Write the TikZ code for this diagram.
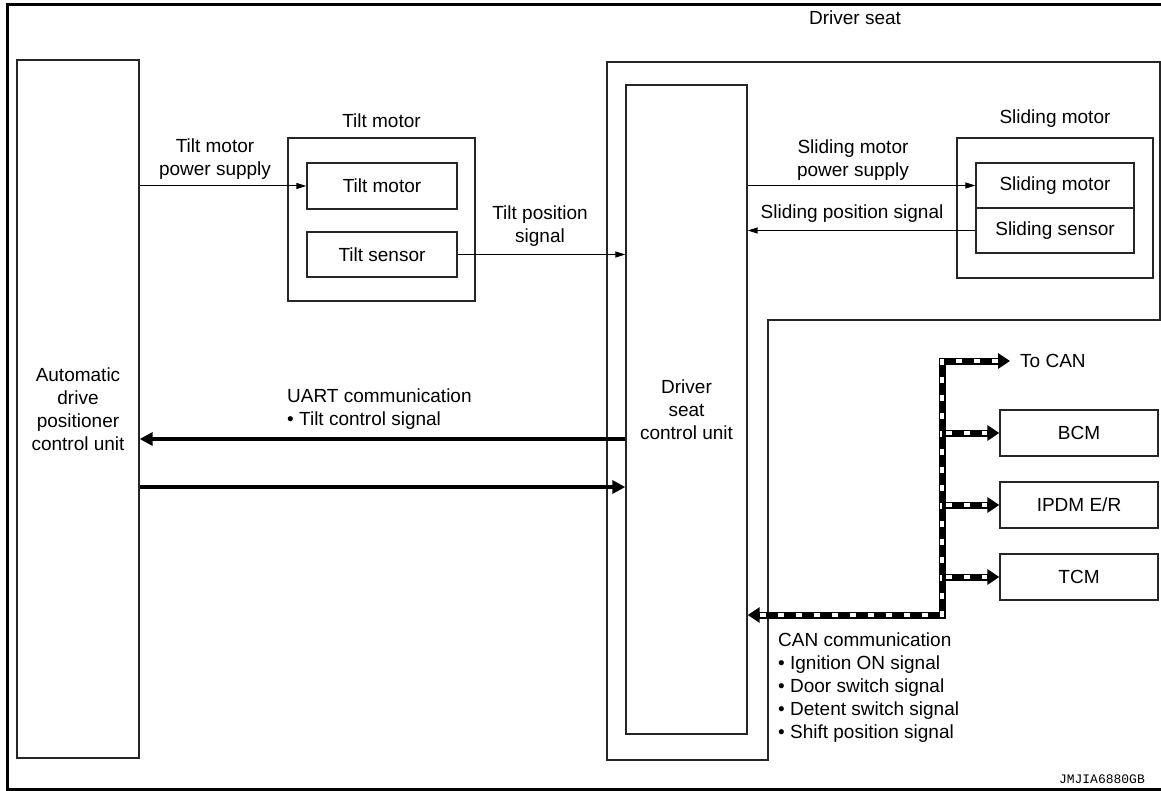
\documentclass[tikz,border=0pt]{standalone}
\usepackage{fontspec}
\setmainfont{Liberation Sans}
\setmonofont{Liberation Mono}
\usetikzlibrary{arrows.meta,positioning}

\tikzset{
  thintip/.tip={Triangle[length=10pt,width=6pt]},
  fattip/.tip={Triangle[length=13pt,width=13pt]},
  cantip/.tip={Triangle[length=12pt,width=15pt]},
}

\begin{document}
\begin{tikzpicture}[x=1pt,y=-1pt,
  every node/.style={font=\fontsize{19}{23}\selectfont,inner sep=0pt},
  unit/.style={draw=black!85,line width=1.3pt,align=center},
  outline/.style={draw=black!85,line width=1.3pt},
  lbl/.style={align=center},
  sig/.style={line width=1pt,-thintip},
  uart/.style={line width=4pt,-fattip},
  canline/.style={line width=7pt,-cantip},
  candash/.style={draw=white,line width=3.4pt,dash pattern=on 6pt off 12pt,
    shorten <=#1,shorten >=12pt},
  candash/.default=4pt]
  \useasboundingbox (0,0) rectangle (1161,791);
  \draw[line width=3pt] (1161,5) -- (7,5) -- (7,789) -- (1161,789);

  % driver seat area
  \draw[outline] (607,62) -- (1160,62) -- (1160,320) -- (768,320)
    -- (768,760) -- (607,760) -- cycle;
  \node (seatlbl) at (855,18) {Driver seat};

  % units
  \node[unit,minimum width=122,minimum height=698] (adpcu) at (78,409)
    {Automatic\\drive\\positioner\\control unit};
  \node[unit,minimum width=121,minimum height=649] (dscu) at (686.5,409.5)
    {Driver\\seat\\control unit};

  % tilt motor
  \node[unit,minimum width=187,minimum height=163] (tiltbox) at (381.5,219.5) {};
  \node (tiltlbl) at (381.5,121) {Tilt motor};
  \node[unit,minimum width=150,minimum height=46] (tiltmot) at (382,186) {Tilt motor};
  \node[unit,minimum width=150,minimum height=45] (tiltsen) at (382,254.5) {Tilt sensor};

  % sliding motor
  \node[unit,minimum width=196,minimum height=140] (slidbox) at (1055,208) {};
  \node (slidlbl) at (1055,119) {Sliding motor};
  \node[unit,minimum width=158,minimum height=45] (slidmot) at (1055,185.5) {Sliding motor};
  \node[unit,minimum width=158,minimum height=45] (slidsen) at (1055,230.5) {Sliding sensor};

  % CAN nodes
  \node[unit,minimum width=158,minimum height=46] (bcm) at (1079,433) {BCM};
  \node[unit,minimum width=158,minimum height=46] (ipdm) at (1079,505) {IPDM E/R};
  \node[unit,minimum width=158,minimum height=46] (tcm) at (1079,577) {TCM};

  % signal lines
  \draw[sig] (adpcu.east |- tiltmot.west) -- (tiltmot.west);
  \node[lbl] (tiltpwr) at (215,159) {Tilt motor\\power supply};
  \draw[sig] (tiltsen.east) -- (dscu.west |- tiltsen.east);
  \node[lbl] (tiltpos) at (540,226) {Tilt position\\signal};
  \draw[sig] (dscu.east |- slidmot.west) -- (slidmot.west);
  \node[lbl] (slidpwr) at (853,160) {Sliding motor\\power supply};
  \draw[sig] (slidsen.west) -- (dscu.east |- slidsen.west);
  \node (slidpos) at (852,214) {Sliding position signal};

  % UART
  \coordinate (uartrx) at (0,439);
  \coordinate (uarttx) at (0,487);
  \draw[uart] (dscu.west |- uartrx) -- (adpcu.east |- uartrx);
  \draw[uart] (adpcu.east |- uarttx) -- (dscu.west |- uarttx);
  \node[align=left,anchor=west] (uartlbl) at (287,409.5)
    {UART communication\\• Tilt control signal};

  % CAN bus
  \coordinate (cantop) at (942,361);
  \coordinate (canbot) at (942,615);
  \coordinate (tocan) at (1010,361);
  \draw[canline,cantip-cantip] (dscu.east |- canbot) -- (canbot) -- (cantop) -- (tocan);
  \draw[candash=12pt] (dscu.east |- canbot) -- (canbot) -- (cantop) -- (tocan);
  \foreach \dest in {bcm,ipdm,tcm} {
    \draw[canline] (cantop |- \dest.west) -- (\dest.west);
    \draw[candash] (cantop |- \dest.west) -- (\dest.west);
  }
  \node[right=10pt of tocan] (tocanlbl) {To CAN};
  \node[align=left,anchor=north west] (canlbl) at (778,633)
    {CAN communication\\• Ignition ON signal\\• Door switch signal\\%
     • Detent switch signal\\• Shift position signal};

  \node[font=\ttfamily\fontsize{13}{14}\selectfont,anchor=east] (figid)
    at (1145,779) {JMJIA6880GB};
\end{tikzpicture}
\end{document}
